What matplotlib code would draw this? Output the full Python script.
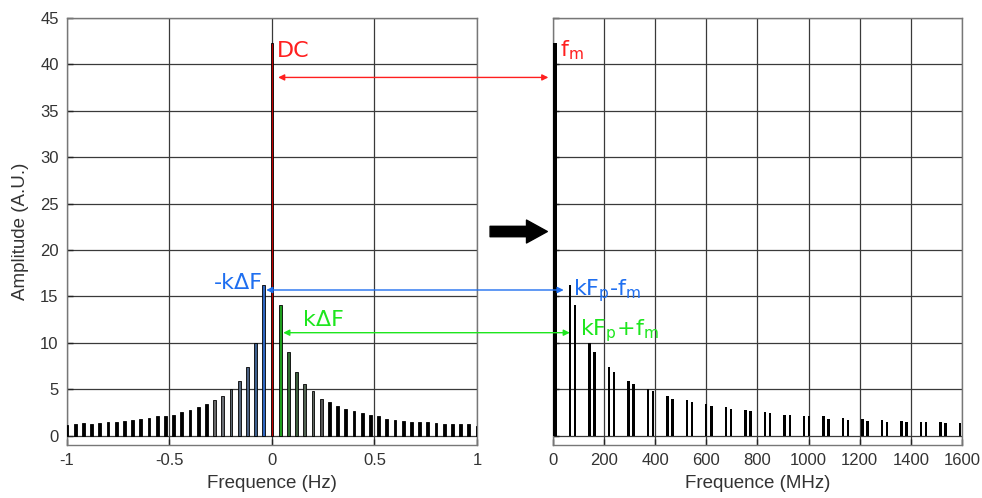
import numpy as np
import matplotlib
matplotlib.use("Agg")
import matplotlib.pyplot as plt
from matplotlib.patches import ConnectionPatch

plt.rcParams["axes.unicode_minus"] = False

# ---- data ----
# baseband spectrum (Hz), bars every 0.04 Hz
DC_AMP = 42.3
NEG_AMP = [1.2, 1.3, 1.4, 1.3, 1.4, 1.5, 1.5, 1.6, 1.7, 1.8, 1.9, 2.1, 2.15,
           2.25, 2.6, 2.8, 3.1, 3.4, 3.8, 4.3, 5.0, 5.9, 7.4, 10.0, 16.2]   # -1.00 .. -0.04
POS_AMP = [14.1, 9.0, 6.9, 5.6, 4.85, 4.0, 3.6, 3.2, 2.9, 2.7, 2.45, 2.25,
           2.15, 1.85, 1.7, 1.6, 1.5, 1.5, 1.45, 1.4, 1.25, 1.25, 1.3, 1.3, 1.1]  # 0.04 .. 1.00
DF = 0.04

# RF spectrum (MHz): carrier + harmonics k*Fp, each with two sidebands at +-fm
FM = 10
HARMONICS = [76, 153, 229, 305, 382, 458, 534, 610, 687, 763, 839, 916, 992,
             1068, 1145, 1221, 1297, 1373, 1450, 1526, 1602]

NEG_COLORS = ["#2f66c0", "#3d5f8c", "#4d6283", "#56657a", "#5c6670", "#6a6e74", "#666666"]
POS_COLORS = ["#1e9e1e", "#2f6a2f", "#3d5e3d", "#4f604f", "#5f665f", "#555555"]

RED = "#ff1f1f"
BLUE = "#1f6ff0"
GREEN = "#1ee61e"
TICK_FONT = "Liberation Sans"
ANN_FONT = "DejaVu Sans"

n = len(NEG_AMP)
x_neg = [-(n - i) * DF for i in range(n)]
x_pos = [(i + 1) * DF for i in range(len(POS_AMP))]

fig = plt.figure(figsize=(9.82, 4.98), dpi=100)
ax1 = fig.add_axes([0.0682, 0.1064, 0.4175, 0.8574])
ax2 = fig.add_axes([0.5631, 0.1064, 0.4165, 0.8574])


def style(ax):
    ax.set_ylim(-1, 45)
    ax.set_yticks(range(0, 46, 5))
    ax.set_axisbelow(True)
    ax.grid(True, color="#3a3a3a", lw=0.9)
    for s in ax.spines.values():
        s.set_color("#777777")
        s.set_linewidth(1.0)
    ax.tick_params(direction="in", length=4, width=1, color="#222222",
                   labelsize=12, labelcolor="#333333", pad=6)
    for lab in ax.get_xticklabels() + ax.get_yticklabels():
        lab.set_fontfamily(TICK_FONT)


# ---- left: baseband ----
neg_fc = ["black"] * n
for k, c in enumerate(NEG_COLORS, start=1):
    neg_fc[n - k] = c
pos_fc = ["black"] * len(POS_AMP)
for k, c in enumerate(POS_COLORS, start=1):
    pos_fc[k - 1] = c

ax1.bar(x_neg, NEG_AMP, width=0.014, color=neg_fc, edgecolor="black", lw=0.6, zorder=3)
ax1.bar(x_pos, POS_AMP, width=0.014, color=pos_fc, edgecolor="black", lw=0.6, zorder=3)
ax1.bar([0], [DC_AMP], width=0.014, color="#c00000", edgecolor="black", lw=0.6, zorder=3)
ax1.set_xlim(-1, 1)
ax1.set_xticks([-1, -0.5, 0, 0.5, 1])
ax1.set_xticklabels(["-1", "-0.5", "0", "0.5", "1"])
style(ax1)
ax1.set_xlabel("Frequence (Hz)", fontsize=13.5, family=TICK_FONT, color="#333333", labelpad=5)
ax1.set_ylabel("Amplitude (A.U.)", fontsize=13.5, family=TICK_FONT, color="#333333", labelpad=8)

# ---- right: RF ----
low = [h - FM for h in HARMONICS]
high = [h + FM for h in HARMONICS]
low_amp = [NEG_AMP[n - k] for k in range(1, len(HARMONICS) + 1)]
high_amp = [POS_AMP[k - 1] for k in range(1, len(HARMONICS) + 1)]
ax2.bar([0], [DC_AMP], width=14, align="edge", color="black", zorder=3)
ax2.bar(low, low_amp, width=9, color="black", zorder=3)
ax2.bar(high, high_amp, width=9, color="black", zorder=3)
ax2.set_xlim(0, 1600)
ax2.set_xticks(range(0, 1601, 200))
style(ax2)
ax2.set_yticklabels([])
ax2.set_xlabel("Frequence (MHz)", fontsize=13.5, family=TICK_FONT, color="#333333", labelpad=5)

# ---- annotations ----
def link(xa, ya, xb, yb, color):
    cp = ConnectionPatch(xyA=(xa, ya), coordsA=ax1.transData,
                         xyB=(xb, yb), coordsB=ax2.transData,
                         arrowstyle="<|-|>", color=color, lw=1.0,
                         mutation_scale=9, zorder=5)
    fig.add_artist(cp)


link(0.03, 38.6, -18, 38.6, RED)
link(-0.028, 15.7, 42, 15.7, BLUE)
link(0.055, 11.1, 66, 11.1, GREEN)

ax1.text(0.025, 41.4, "DC", color=RED, fontsize=16, family=ANN_FONT, va="center", ha="left")
ax1.text(-0.045, 16.5, "-k\u0394F", color=BLUE, fontsize=16, family=ANN_FONT, va="center", ha="right")
ax1.text(0.15, 12.5, "k\u0394F", color=GREEN, fontsize=16, family=ANN_FONT, va="center", ha="left")
ax2.text(26, 41.5, r"f$_\mathregular{m}$", color=RED, fontsize=16, family=ANN_FONT, va="center", ha="left")
ax2.text(80, 15.6, r"kF$_\mathregular{p}$-f$_\mathregular{m}$", color=BLUE, fontsize=16,
         family=ANN_FONT, va="center", ha="left")
ax2.text(104, 11.3, r"kF$_\mathregular{p}$+f$_\mathregular{m}$", color=GREEN, fontsize=16,
         family=ANN_FONT, va="center", ha="left")

ax2.annotate("", xy=(-22, 22.0), xytext=(-246, 22.0),
             xycoords="data", textcoords="data", annotation_clip=False,
             arrowprops=dict(arrowstyle="simple,head_width=1.1,head_length=1.0,tail_width=0.5",
                             color="black", mutation_scale=15, shrinkA=0, shrinkB=0))

fig.savefig("out.png", dpi=100)
